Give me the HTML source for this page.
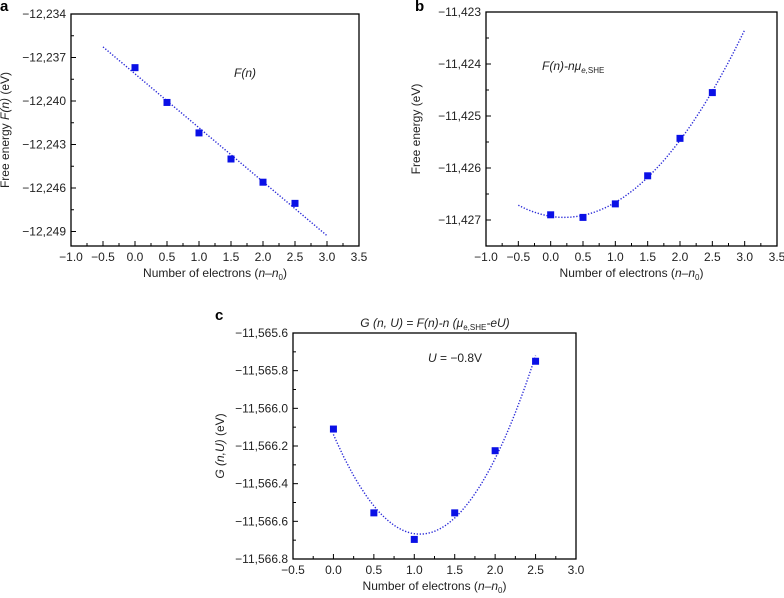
<!DOCTYPE html>
<html><head><meta charset="utf-8">
<style>
html,body{margin:0;padding:0;background:#fff;}
svg{display:block;font-family:"Liberation Sans",Arial,sans-serif;}
</style></head>
<body>
<svg id="fig" width="784" height="598" viewBox="0 0 784 598"></svg>
<script>
// Panel a data
const aX = [0, 0.5, 1, 1.5, 2, 2.5];
const aY = [-12237.7, -12240.1, -12242.2, -12244.0, -12245.6, -12247.06];
const aYTicks = [-12234, -12237, -12240, -12243, -12246, -12249];
// Panel b data
const bX = [0, 0.5, 1, 1.5, 2, 2.5];
const bY = [-11426.9, -11426.95, -11426.69, -11426.15, -11425.43, -11424.55];
const bYTicks = [-11423, -11424, -11425, -11426, -11427];
// Panel c data
const cX = [0, 0.5, 1, 1.5, 2, 2.5];
const cY = [-11566.11, -11566.555, -11566.696, -11566.555, -11566.225, -11565.75];
const cYTicks = [-11565.6, -11565.8, -11566.0, -11566.2, -11566.4, -11566.6, -11566.8];
const abXTicks = [-1.0, -0.5, 0.0, 0.5, 1.0, 1.5, 2.0, 2.5, 3.0, 3.5];
const cXTicks = [-0.5, 0.0, 0.5, 1.0, 1.5, 2.0, 2.5, 3.0];

const NS = "http://www.w3.org/2000/svg";
const svg = document.getElementById('fig');
function mk(tag, attrs, parent) {
  const e = document.createElementNS(NS, tag);
  for (const k in attrs) e.setAttribute(k, attrs[k]);
  (parent || svg).appendChild(e);
  return e;
}
function fmt(v, dec) {
  const neg = v < 0; v = Math.abs(v);
  let s = v.toFixed(dec);
  let [i, f] = s.split('.');
  i = i.replace(/\B(?=(\d{3})+(?!\d))/g, ',');
  return (neg ? '\u2212' : '') + i + (f ? '.' + f : '');
}
function polyfit(xs, ys, deg) {
  const n = deg + 1;
  const A = [], b = [];
  const x0 = xs.reduce((s, v) => s + v, 0) / xs.length;
  const y0 = ys.reduce((s, v) => s + v, 0) / ys.length;
  for (let r = 0; r < n; r++) { A.push(new Array(n).fill(0)); b.push(0); }
  xs.forEach((x, k) => {
    const dx = x - x0, dy = ys[k] - y0;
    for (let r = 0; r < n; r++) {
      for (let c = 0; c < n; c++) A[r][c] += Math.pow(dx, r + c);
      b[r] += Math.pow(dx, r) * dy;
    }
  });
  for (let i = 0; i < n; i++) {
    let p = i;
    for (let j = i + 1; j < n; j++) if (Math.abs(A[j][i]) > Math.abs(A[p][i])) p = j;
    [A[i], A[p]] = [A[p], A[i]]; [b[i], b[p]] = [b[p], b[i]];
    for (let j = i + 1; j < n; j++) {
      const f = A[j][i] / A[i][i];
      for (let c = i; c < n; c++) A[j][c] -= f * A[i][c];
      b[j] -= f * b[i];
    }
  }
  const co = new Array(n).fill(0);
  for (let i = n - 1; i >= 0; i--) {
    let s = b[i];
    for (let c = i + 1; c < n; c++) s -= A[i][c] * co[c];
    co[i] = s / A[i][i];
  }
  return x => { let s = 0; for (let i = 0; i < n; i++) s += co[i] * Math.pow(x - x0, i); return s + y0; };
}

function panel(o) {
  const g = mk('g', {});
  
  
  const sx = v => o.L + (v - o.xmin) / (o.xmax - o.xmin) * (o.R - o.L);
  const sy = v => o.T + (o.ymax - v) / (o.ymax - o.ymin) * (o.B - o.T);
  // fit line
  const f = polyfit(o.xs, o.ys, o.deg);
  let pts = [];
  for (let i = 0; i <= 60; i++) { const x = o.f0 + (o.f1 - o.f0) * i / 60; pts.push(sx(x).toFixed(1) + ',' + sy(f(x)).toFixed(1)); }
  const fl = mk('polyline', {points: pts.join(' '), fill: 'none', stroke: '#2a2ad8', 'stroke-width': 1.4, 'stroke-dasharray': '1.3,1.7'}, g);
  
  
  // points
  o.xs.forEach((x, i) => {
    const r = mk('rect', {x: sx(x) - 3.5, y: sy(o.ys[i]) - 3.5, width: 7, height: 7, fill: '#0a10e6'}, g);
    
    
  });
  // frame
  const fr = mk('rect', {x: o.L, y: o.T, width: o.R - o.L, height: o.B - o.T, fill: 'none', stroke: '#000', 'stroke-width': 1.3}, g);
  
  
  // x ticks
  o.xt.forEach((v, i) => {
    const x = sx(v);
    mk('line', {x1: x, x2: x, y1: o.B, y2: o.B - 5, stroke: '#000', 'stroke-width': 1}, g);
    if (i < o.xt.length - 1) { const xm = sx(v + (o.xt[1] - o.xt[0]) / 2); mk('line', {x1: xm, x2: xm, y1: o.B, y2: o.B - 3, stroke: '#000'}, g); }
    const t = mk('text', {x: x, y: o.B + 15, 'text-anchor': 'middle', 'font-size': 12, fill: '#222'}, g);
    t.textContent = fmt(v, 1);
    
    
  });
  // y ticks
  const step = o.yt[0] - o.yt[1];
  o.yt.forEach(v => {
    const y = sy(v);
    mk('line', {x1: o.L, x2: o.L + 5, y1: y, y2: y, stroke: '#000'}, g);
    const ym = sy(v - step / 2);
    if (ym <= o.B) mk('line', {x1: o.L, x2: o.L + 3, y1: ym, y2: ym, stroke: '#000'}, g);
    const t = mk('text', {x: o.L - 5, y: y + 4, 'text-anchor': 'end', 'font-size': 12, fill: '#222'}, g);
    t.textContent = fmt(v, o.ydec);
    
    
  });
  // x title
  const xt = mk('text', {x: (o.L + o.R) / 2, y: o.B + 31, 'text-anchor': 'middle', 'font-size': 12, fill: '#222'}, g);
  xt.innerHTML = 'Number of electrons (<tspan font-style="italic">n</tspan>\u2013<tspan font-style="italic">n</tspan><tspan font-size="8" dy="3">0</tspan><tspan dy="-3">)</tspan>';
  
  
  // y title
  const yt = mk('text', {x: 0, y: 0, 'text-anchor': 'middle', 'font-size': 12, fill: '#222', transform: `translate(${o.ytx},${(o.T + o.B) / 2}) rotate(-90)`}, g);
  yt.innerHTML = o.ytitle;
  
  
  // panel letter
  const pl = mk('text', {x: o.lx, y: o.ly, 'font-size': 15, 'font-weight': 'bold', fill: '#000'}, g);
  pl.textContent = o.letter;
  
  
  // annotation
  const an = mk('text', {x: o.ax, y: o.ay, 'font-size': 12, fill: '#222'}, g);
  an.innerHTML = o.ann;
  
  
}

panel({name: 'panel-a', L: 71, R: 359, T: 14, B: 246, xmin: -1, xmax: 3.5, ymin: -12250, ymax: -12234,
  xs: aX, ys: aY, deg: 1, f0: -0.5, f1: 3.0, xt: abXTicks, yt: aYTicks, ydec: 0,
  ytx: 9, ytitle: 'Free energy <tspan font-style="italic">F(n)</tspan> (eV)',
  letter: 'a', lx: 0, ly: 11, ann: '<tspan font-style="italic">F(n)</tspan>', ax: 234, ay: 77});
panel({name: 'panel-b', L: 486, R: 777, T: 12, B: 246, xmin: -1, xmax: 3.5, ymin: -11427.5, ymax: -11423,
  xs: bX, ys: bY, deg: 2, f0: -0.5, f1: 3.0, xt: abXTicks, yt: bYTicks, ydec: 0,
  ytx: 420, ytitle: 'Free energy (eV)',
  letter: 'b', lx: 415, ly: 11, ann: '<tspan font-style="italic">F(n)-nμ<tspan font-size="8" dy="3">e,</tspan></tspan><tspan font-size="8">SHE</tspan>', ax: 542, ay: 70});
panel({name: 'panel-c', L: 293, R: 576, T: 333, B: 559, xmin: -0.5, xmax: 3.0, ymin: -11566.8, ymax: -11565.6,
  xs: cX, ys: cY, deg: 2, f0: 0, f1: 2.5, xt: cXTicks, yt: cYTicks, ydec: 1,
  ytx: 224, ytitle: '<tspan font-style="italic">G (n,U)</tspan> (eV)',
  letter: 'c', lx: 215, ly: 320, ann: '<tspan font-style="italic">U</tspan> = \u22120.8V', ax: 428, ay: 362});
const ct = mk('text', {x: 435, y: 327, 'text-anchor': 'middle', 'font-size': 12, fill: '#222', 'font-style': 'italic'});
ct.innerHTML = 'G (n, U) = F(n)-n (μ<tspan font-size="8" dy="3" font-style="normal">e,SHE</tspan><tspan dy="-3">-eU)</tspan>';


</script>
</body></html>
